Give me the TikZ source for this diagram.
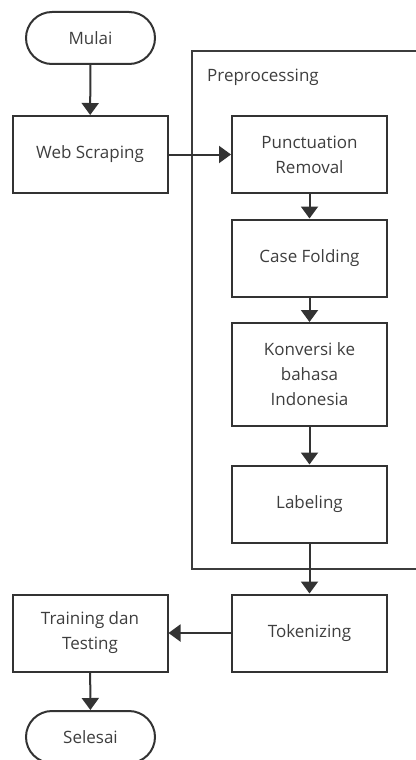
\documentclass[tikz,border=0pt]{standalone}
\usepackage{fontspec}
\setmainfont{Open Sans}
\usepackage{xcolor}
\usetikzlibrary{arrows.meta}
\definecolor{ink}{HTML}{333333}
\definecolor{txt}{HTML}{3e3e3e}
\definecolor{frame}{HTML}{3c3c3c}

\begin{document}
\begin{tikzpicture}[
  x=1pt, y=1pt,
  proc/.style={rectangle, draw=ink, line width=2pt, minimum width=155pt,
    minimum height=77pt, align=center, text=txt, font=\fontsize{17}{25}\selectfont},
  term/.style={rectangle, rounded corners=26pt, draw=ink, line width=2pt,
    minimum width=129pt, minimum height=52pt, text=txt, font=\fontsize{17}{25}\selectfont},
  flow/.style={draw=ink, line width=2pt, -{Triangle[width=17pt, length=12pt]}},
  title/.style={text=txt, font=\fontsize{17}{25}\selectfont, anchor=west, inner sep=0pt}
]
\useasboundingbox (0,0) rectangle (415,-760);

% preprocessing frame
\draw[frame, line width=1.6pt] (430,-51) -- (192,-51) -- (192,-569) -- (430,-569);
\node[title] (pre) at (207,-77) {Preprocessing};

\node[term] (mulai) at (90.5,-38) {Mulai};
\node[proc] (web) at (90,-154.5) {Web Scraping};

\node[proc] (punc) at (309.5,-154.5) {Punctuation\\Removal};
\node[proc] (case) at (309.5,-258) {Case Folding};
\node[proc, minimum height=103pt] (konv) at (309.5,-374.5) {Konversi ke\\bahasa\\Indonesia};
\node[proc] (lab) at (309.5,-504) {Labeling};

\node[proc] (token) at (309.5,-633) {Tokenizing};
\node[proc] (train) at (90,-633) {Training dan\\Testing};
\node[term] (selesai) at (90.5,-737) {Selesai};

\draw[flow] (mulai) -- (web);
\draw[flow] (web) -- (punc);
\draw[flow] (punc) -- (case);
\draw[flow] (case) -- (konv);
\draw[flow] (konv) -- (lab);
\draw[flow] (lab) -- (token);
\draw[flow] (token) -- (train);
\draw[flow] (train) -- (selesai);

\end{tikzpicture}
\end{document}
